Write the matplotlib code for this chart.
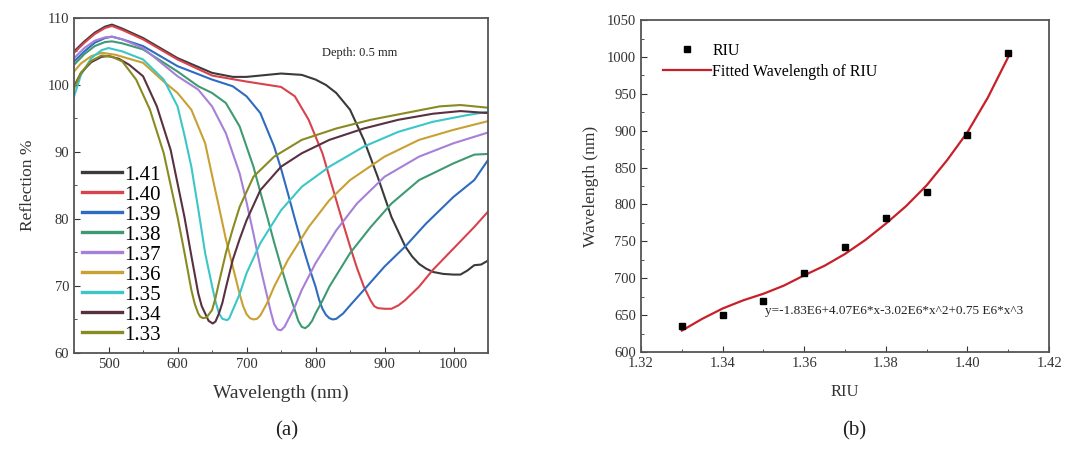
import numpy as np
import matplotlib
matplotlib.use("Agg")
import matplotlib.pyplot as plt
from matplotlib.ticker import MultipleLocator, FormatStrFormatter

plt.rcParams['font.family'] = ['Liberation Serif', 'DejaVu Serif']

# ---- panel (a): reflection spectra ----
labels = ['1.41', '1.40', '1.39', '1.38', '1.37', '1.36', '1.35', '1.34', '1.33']
colors = ['#3a3a3a', '#d8424c', '#2e6cc0', '#3f9a72', '#a680d8', '#c9a032', '#3cc6c8', '#5a3040', '#8a8a22']

wl_141 = [450, 465, 480, 495, 505, 520, 550, 600, 650, 680, 700, 730, 750, 780, 800, 815, 830, 850, 870, 890,
          910, 930, 940, 950, 960, 970, 985, 1000, 1010, 1020, 1030, 1040, 1050]
r_141 = [105.0, 106.5, 107.8, 108.7, 109.0, 108.4, 107.0, 104.0, 101.8, 101.2, 101.2, 101.5, 101.7, 101.5, 100.8, 100.0, 98.8, 96.3, 91.8, 86.3,
         80.3, 75.9, 74.4, 73.3, 72.6, 72.1, 71.8, 71.7, 71.7, 72.3, 73.1, 73.2, 73.8]

wl_140 = [450, 465, 480, 495, 505, 520, 550, 600, 650, 700, 750, 770, 790, 810, 820, 830, 840, 850, 860, 870,
          880, 885, 890, 900, 910, 920, 930, 950, 970, 1000, 1030, 1050]
r_140 = [104.8, 106.3, 107.6, 108.5, 108.8, 108.2, 106.8, 103.8, 101.4, 100.5, 99.7, 98.3, 94.8, 89.8, 86.3, 82.8, 79.3, 75.9, 72.7, 69.9,
         67.8, 67.0, 66.7, 66.6, 66.6, 67.1, 67.9, 69.9, 72.4, 75.6, 78.8, 81.1]

wl_139 = [450, 465, 480, 495, 505, 520, 550, 600, 650, 680, 700, 720, 740, 750, 760, 770, 780, 790, 800, 805,
          810, 815, 820, 825, 830, 840, 850, 870, 900, 930, 960, 1000, 1030, 1050]
r_139 = [103.5, 105.0, 106.3, 107.0, 107.2, 106.8, 105.8, 102.8, 100.8, 99.8, 98.3, 95.8, 90.8, 87.5, 83.8, 80.0, 76.4, 73.0, 69.9, 68.0,
         66.6, 65.7, 65.2, 65.0, 65.1, 65.9, 67.1, 69.4, 72.9, 75.9, 79.3, 83.3, 85.8, 88.8]

wl_138 = [450, 465, 480, 495, 505, 520, 550, 600, 630, 650, 670, 690, 710, 720, 730, 740, 750, 760, 770, 775,
          780, 785, 790, 795, 800, 810, 820, 850, 880, 910, 950, 1000, 1030, 1050]
r_138 = [103.0, 104.6, 105.8, 106.4, 106.5, 106.2, 105.3, 102.0, 99.8, 98.8, 97.3, 93.8, 87.8, 84.0, 80.3, 76.5, 72.9, 69.5, 66.4, 64.8,
         63.9, 63.7, 64.1, 64.8, 65.9, 67.8, 69.9, 74.9, 78.8, 82.3, 85.8, 88.3, 89.6, 89.7]

wl_137 = [450, 465, 480, 495, 505, 520, 550, 600, 630, 650, 670, 690, 700, 710, 720, 730, 735, 740, 745, 750,
          755, 760, 770, 780, 800, 830, 860, 900, 950, 1000, 1050]
r_137 = [104.0, 105.5, 106.6, 107.1, 107.2, 106.8, 105.5, 101.3, 99.3, 96.8, 92.8, 86.8, 82.5, 77.8, 72.8, 68.4, 66.2, 64.3, 63.5, 63.4,
         63.9, 64.9, 66.9, 69.4, 73.4, 78.3, 82.3, 86.3, 89.3, 91.3, 92.9]

wl_136 = [450, 460, 475, 490, 510, 550, 580, 600, 620, 640, 650, 660, 670, 680, 690, 695, 700, 705, 710, 715,
          720, 730, 740, 750, 760, 790, 820, 850, 900, 950, 1000, 1050]
r_136 = [102.0, 103.2, 104.3, 104.8, 104.5, 103.3, 100.5, 98.8, 96.3, 91.3, 86.5, 81.8, 77.0, 72.9, 68.8, 67.0, 65.8, 65.2, 65.0, 65.1,
         65.6, 67.5, 69.9, 71.9, 73.9, 78.8, 82.8, 85.8, 89.3, 91.8, 93.3, 94.6]

wl_135 = [450, 460, 475, 490, 500, 520, 550, 580, 600, 610, 620, 630, 640, 650, 655, 660, 665, 672, 675, 680,
          690, 700, 720, 750, 780, 820, 870, 920, 970, 1020, 1050]
r_135 = [98.3, 101.5, 104.0, 105.2, 105.5, 105.0, 103.8, 100.8, 96.8, 92.5, 87.8, 81.5, 74.9, 70.0, 67.7, 65.9, 65.1, 64.9, 65.2, 66.4,
         68.8, 71.9, 76.4, 81.3, 84.8, 87.8, 90.8, 93.0, 94.5, 95.5, 96.0]

wl_134 = [450, 460, 475, 490, 500, 515, 530, 550, 570, 590, 610, 620, 630, 635, 640, 645, 651, 655, 660, 665,
          670, 680, 690, 700, 720, 750, 780, 820, 870, 920, 970, 1010, 1050]
r_134 = [99.8, 101.8, 103.4, 104.2, 104.3, 103.9, 103.0, 101.3, 96.8, 90.3, 80.3, 74.5, 68.9, 67.0, 65.9, 64.8, 64.4, 64.7, 65.9, 67.5,
         69.7, 73.9, 77.0, 79.8, 84.3, 87.8, 89.8, 91.8, 93.5, 94.8, 95.7, 96.1, 95.8]

wl_133 = [450, 460, 475, 490, 505, 520, 540, 560, 580, 600, 610, 620, 625, 630, 633, 637, 642, 650, 655, 660,
          670, 680, 690, 710, 740, 780, 830, 880, 930, 980, 1010, 1050]
r_133 = [99.5, 101.8, 103.6, 104.4, 104.2, 103.5, 100.8, 96.3, 89.8, 80.3, 75.0, 69.4, 67.3, 65.9, 65.4, 65.2, 65.3, 66.4, 68.2, 70.5,
         74.9, 78.5, 81.8, 86.3, 89.3, 91.8, 93.5, 94.8, 95.8, 96.8, 97.0, 96.6]

spectra_wl = [wl_141, wl_140, wl_139, wl_138, wl_137, wl_136, wl_135, wl_134, wl_133]
spectra_r = [r_141, r_140, r_139, r_138, r_137, r_136, r_135, r_134, r_133]

# ---- panel (b): resonance wavelength vs RIU ----
riu = [1.33, 1.34, 1.35, 1.36, 1.37, 1.38, 1.39, 1.40, 1.41]
peak_wl = [635, 650, 669, 707, 742, 781, 817, 894, 1005]
fit_riu = [1.33, 1.335, 1.34, 1.345, 1.35, 1.355, 1.36, 1.365, 1.37, 1.375, 1.38, 1.385, 1.39, 1.395, 1.40, 1.405, 1.41]
fit_wl = [629, 645, 659, 670, 679, 690, 704, 717, 733, 752, 774, 798, 826, 860, 898, 945, 1000]

fig = plt.figure(figsize=(10.67, 4.51), dpi=100)

spine_col = '#555555'

# (a)
ax1 = fig.add_axes([0.0694, 0.2173, 0.388, 0.743])
for w, r, c, l in zip(spectra_wl, spectra_r, colors, labels):
    ax1.plot(w, r, color=c, lw=1.5, label=l)
ax1.set_xlim(450, 1050)
ax1.set_ylim(60, 110)
ax1.xaxis.set_major_locator(MultipleLocator(100))
ax1.xaxis.set_minor_locator(MultipleLocator(50))
ax1.yaxis.set_major_locator(MultipleLocator(10))
ax1.yaxis.set_minor_locator(MultipleLocator(5))
ax1.tick_params(which='both', direction='in', labelsize=10.5, colors='#333333')
ax1.tick_params(which='major', length=4)
ax1.tick_params(which='minor', length=2.5)
ax1.set_xlabel('Wavelength (nm)', fontsize=14, color='#333333', labelpad=10)
ax1.set_ylabel('Reflection %', fontsize=12.5, color='#333333', labelpad=8)
for s in ax1.spines.values():
    s.set_color(spine_col)
    s.set_linewidth(1.3)
ax1.text(0.6, 0.885, 'Depth: 0.5 mm', transform=ax1.transAxes, fontsize=9, color='#222222')
leg1 = ax1.legend(loc='lower left', bbox_to_anchor=(0.0, 0.0), frameon=False, fontsize=15,
                  handlelength=1.9, handletextpad=0.1, labelspacing=0.02, borderaxespad=0.1,
                  borderpad=0.3)
for ln in leg1.get_lines():
    ln.set_linewidth(2.4)

# (b)
ax2 = fig.add_axes([0.6008, 0.2195, 0.3824, 0.736])
ax2.plot(riu, peak_wl, 's', color='black', ms=5, label='RIU', zorder=3)
ax2.plot(fit_riu, fit_wl, '-', color='#c8202a', lw=1.6, label='Fitted Wavelength of RIU')
ax2.set_xlim(1.32, 1.42)
ax2.set_ylim(600, 1050)
ax2.xaxis.set_major_locator(MultipleLocator(0.02))
ax2.xaxis.set_minor_locator(MultipleLocator(0.01))
ax2.yaxis.set_major_locator(MultipleLocator(50))
ax2.yaxis.set_minor_locator(MultipleLocator(25))
ax2.xaxis.set_major_formatter(FormatStrFormatter('%.2f'))
ax2.tick_params(which='both', direction='in', labelsize=10.5, colors='#333333')
ax2.tick_params(which='major', length=4)
ax2.tick_params(which='minor', length=2.5)
ax2.set_xlabel('RIU', fontsize=12, color='#333333', labelpad=10)
ax2.set_ylabel('Wavelength (nm)', fontsize=12.5, color='#333333', labelpad=6)
for s in ax2.spines.values():
    s.set_color(spine_col)
    s.set_linewidth(1.3)
ax2.text(1.3505, 651, 'y=-1.83E6+4.07E6*x-3.02E6*x^2+0.75 E6*x^3', fontsize=9.5, color='#222222')
ax2.legend(loc='upper left', bbox_to_anchor=(0.03, 0.96), frameon=False, fontsize=11.5,
           handlelength=3.0, handletextpad=0.1, labelspacing=0.3, borderaxespad=0.2)

fig.text(0.269, 0.035, '(a)', fontsize=15, ha='center', color='#222222')
fig.text(0.801, 0.035, '(b)', fontsize=15, ha='center', color='#222222')

fig.savefig('out.png', dpi=100)
